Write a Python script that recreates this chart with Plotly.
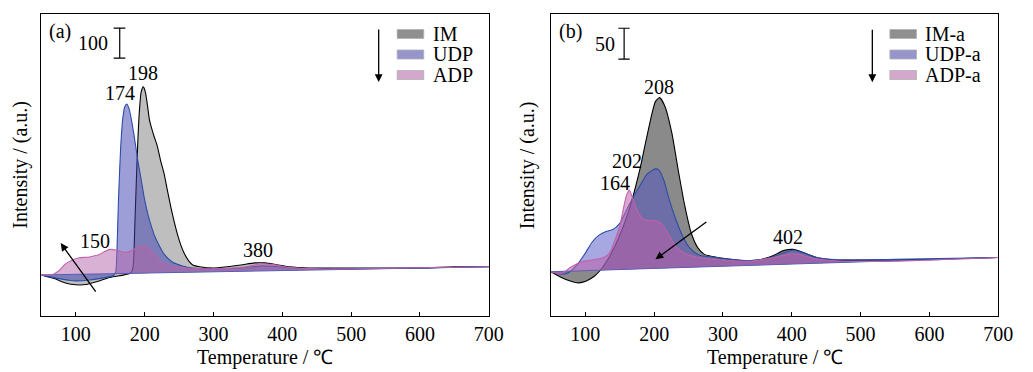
import plotly.graph_objects as go

W, H = 1033, 372
FONT = "Liberation Serif, Times New Roman, serif"
FS = 20

# ---------------- Panel (a) data ----------------
im_x = [50, 70, 85, 100, 115, 130, 150, 170, 180, 183, 186, 189, 192, 195, 198, 201, 204, 207, 210, 214, 218,
        223, 228, 233, 238, 243, 248, 253, 258, 264, 270, 280, 300, 320, 340, 360, 375, 390, 410, 440, 500, 600, 650, 700]
im_y = [0, -13, -27, -33, -32, -23, -8, 0, 7, 23, 183, 383, 533, 610, 627, 610, 567, 517, 490, 460, 433,
        383, 340, 283, 227, 177, 133, 97, 70, 47, 33, 27, 23, 27, 33, 40, 40, 35, 27, 23, 23, 23, 27, 28]

udp_x = [50, 70, 90, 100, 120, 140, 155, 158, 160, 162, 165, 168, 171, 174, 177, 180, 185, 190, 195, 200, 205,
         210, 215, 220, 228, 240, 255, 270, 300, 340, 370, 390, 420, 500, 600, 700]
udp_y = [0, -10, -18, -20, -17, -10, -2, 10, 100, 250, 417, 517, 560, 570, 557, 527, 460, 383, 317, 250, 200,
         160, 127, 103, 70, 43, 30, 23, 20, 23, 30, 28, 22, 20, 23, 27]

adp_x = [50, 65, 75, 85, 95, 105, 120, 133, 142, 150, 158, 165, 172, 180, 190, 197, 205, 212, 220, 230, 245,
         270, 300, 340, 370, 385, 410, 450, 550, 700]
adp_y = [0, 0, 13, 37, 50, 57, 60, 67, 78, 85, 83, 78, 75, 80, 92, 97, 90, 73, 50, 35, 27,
         22, 20, 25, 37, 35, 25, 20, 22, 27]

base_a_x = [50, 700]
base_a_y = [0, 27]

# ---------------- Panel (b) data ----------------
ima_x = [50, 63, 78, 90, 101.5, 113.5, 123, 135, 149, 163.6, 178, 187.5, 197, 202, 208, 216, 225.7, 235, 244.8,
         254, 263.8, 273, 292, 311.6, 330.7, 349.7, 369, 388, 402, 416.6, 435.7, 464, 512, 607.5, 700]
ima_y = [0, -8, -15, -18, -15, -7, 4, 24, 56, 100, 159, 208, 256, 275, 281, 266, 224, 164, 105,
         62, 38, 28, 23, 20, 18, 19, 24, 34, 36, 31, 23, 19, 19, 20, 23]

udpa_x = [50, 63, 75, 90, 100, 110, 120, 130, 140, 150, 160, 170, 180, 190, 202, 207, 214, 222, 232, 242, 252,
          265, 290, 310, 340, 370, 390, 402, 415, 440, 470, 550, 700]
udpa_y = [0, -4, -2, 14, 30, 48, 59, 65, 68, 78, 100, 121, 140, 158, 166, 164, 148, 116, 83, 56, 38,
          27, 23, 20, 18, 23, 31, 35, 31, 22, 19, 20, 23]

adpa_x = [50, 65, 80, 95, 110, 125, 135, 143, 150, 155, 160, 164, 168, 175, 183, 192, 200, 210, 220, 232, 245,
          265, 300, 340, 370, 395, 410, 430, 470, 550, 700]
adpa_y = [0, -3, 8, 16, 19, 22, 30, 51, 73, 100, 124, 132, 121, 100, 86, 82, 83, 78, 62, 40, 29,
          23, 19, 17, 22, 28, 28, 22, 17, 17, 23]

base_b_x = [50, 700]
base_b_y = [0, 23]

x_ticks = [100, 200, 300, 400, 500, 600, 700]
names_a = ["IM", "UDP", "ADP"]
names_b = ["IM-a", "UDP-a", "ADP-a"]
peaks_a = [(198, 673, "198"), (164, 607, "174"), (128, 114, "150"), (364, 83, "380")]
peaks_b = [(206.5, 298, "208"), (161, 179, "202"), (143.5, 144, "164"), (395, 56, "402")]

line_cols = ["#000000", "#2a4ea6", "#c062a8"]
fill_a = ["rgba(125,125,125,0.5)", "rgba(60,60,175,0.5)", "rgba(180,100,170,0.5)"]
fill_b = ["rgba(105,105,105,0.78)", "rgba(80,80,195,0.5)", "rgba(185,95,170,0.55)"]
legend_cols = ["#8f8f8f", "#9595cc", "#d4a8cc"]


def px_x(p):
    return p / W


def px_y(p):
    return 1 - p / H


fig = go.Figure()

series_a = [(im_x, im_y), (udp_x, udp_y), (adp_x, adp_y)]
series_b = [(ima_x, ima_y), (udpa_x, udpa_y), (adpa_x, adpa_y)]

for panel, (series, base_x, base_y, fills, names) in enumerate(
        [(series_a, base_a_x, base_a_y, fill_a, names_a), (series_b, base_b_x, base_b_y, fill_b, names_b)]):
    xa = "x" if panel == 0 else "x2"
    ya = "y" if panel == 0 else "y2"
    for i, (sx, sy) in enumerate(series):
        fig.add_trace(go.Scatter(x=base_x, y=base_y, mode="lines",
                                 line=dict(color="#3a5cb8" if i == 1 else "rgba(0,0,0,0)", width=1),
                                 xaxis=xa, yaxis=ya, showlegend=False, hoverinfo="skip"))
        fig.add_trace(go.Scatter(x=sx, y=sy, mode="lines", name=names[i], fill="tonexty",
                                 fillcolor=fills[i], line=dict(color=line_cols[i], width=1.1, shape="spline",
                                                               smoothing=0.6),
                                 xaxis=xa, yaxis=ya, showlegend=False))

dom_a = [px_x(42), px_x(496)]
dom_b = [px_x(559), px_x(1013)]
dom_y = [px_y(316), px_y(14)]

axis_common = dict(range=[50, 700], tickvals=x_ticks, ticks="inside", ticklen=4, tickcolor="black",
                   showline=True, linecolor="black", linewidth=1, mirror=True, showgrid=False, zeroline=False,
                   tickfont=dict(family=FONT, size=FS, color="black"))
yaxis_common = dict(showticklabels=False, ticks="", showline=True, linecolor="black", linewidth=1, mirror=True,
                    showgrid=False, zeroline=False, domain=dom_y)

fig.update_layout(
    width=W, height=H, autosize=False, margin=dict(l=0, r=0, t=0, b=0),
    paper_bgcolor="white", plot_bgcolor="white", showlegend=False,
    font=dict(family=FONT, size=FS, color="black"),
    xaxis=dict(domain=dom_a, anchor="y", **axis_common),
    yaxis=dict(anchor="x", range=[-137, 870], **yaxis_common),
    xaxis2=dict(domain=dom_b, anchor="y2", **axis_common),
    yaxis2=dict(anchor="x2", range=[-71.5, 416], **yaxis_common),
)

anns = []
shapes = []


def txt(x, y, t, xref="paper", yref="paper", xanchor="center", angle=0):
    return dict(x=x, y=y, xref=xref, yref=yref, text=t, showarrow=False, xanchor=xanchor, yanchor="middle",
                textangle=angle, font=dict(family=FONT, size=FS, color="black"))


# peak labels
for (px_, py_, t) in peaks_a:
    anns.append(txt(px_, py_, t, "x", "y"))
for (px_, py_, t) in peaks_b:
    anns.append(txt(px_, py_, t, "x2", "y2"))

# panel labels
anns.append(txt(px_x(48), px_y(31), "(a)", xanchor="left"))
anns.append(txt(px_x(565), px_y(31), "(b)", xanchor="left"))

# scale bars
for (xr, yr, xc, x0c, x1c, y0, y1, lab, labx) in [
        ("x", "y", 163.8, 155, 172, 723, 823, "100", 150),
        ("x2", "y2", 156.4, 148, 164.5, 343, 393, "50", 146)]:
    shapes.append(dict(type="line", xref=xr, yref=yr, x0=xc, x1=xc, y0=y0, y1=y1,
                       line=dict(color="black", width=1.2)))
    for yy in (y0, y1):
        shapes.append(dict(type="line", xref=xr, yref=yr, x0=x0c, x1=x1c, y0=yy, y1=yy,
                           line=dict(color="black", width=1.2)))
    anns.append(txt(labx, (y0 + y1) / 2, lab, xr, yr, xanchor="right"))

# arrows
arrow_style = dict(text="", showarrow=True, arrowhead=2, arrowsize=1.2, arrowwidth=1.3, arrowcolor="black")
anns.append(dict(x=78, y=106, ax=130.5, ay=-61, xref="x", yref="y", axref="x", ayref="y", **arrow_style))
anns.append(dict(x=540, y=643, ax=540, ay=823, xref="x", yref="y", axref="x", ayref="y", **arrow_style))
anns.append(dict(x=202, y=20, ax=278, ay=82, xref="x2", yref="y2", axref="x2", ayref="y2", **arrow_style))
anns.append(dict(x=517, y=306, ax=517, ay=393, xref="x2", yref="y2", axref="x2", ayref="y2", **arrow_style))

# custom legends
for (sx0, names) in [(403, names_a), (903, names_b)]:
    for i, nm in enumerate(names):
        cy = [34, 54.5, 75][i]
        shapes.append(dict(type="rect", xref="paper", yref="paper", x0=px_x(sx0), x1=px_x(sx0 + 27),
                           y0=px_y(cy + 4.5), y1=px_y(cy - 4.5), fillcolor=legend_cols[i],
                           line=dict(color="#b0b0b0", width=0.8)))
        anns.append(txt(px_x(sx0 + 34), px_y(cy), nm, xanchor="left"))

# axis titles
for cx in [(42 + 496) / 2, (559 + 1013) / 2]:
    anns.append(txt(px_x(cx), px_y(357), "Temperature / ℃"))
for cx in [20, 535]:
    anns.append(txt(px_x(cx), px_y(165), "Intensity / (a.u.)", angle=-90))

fig.update_layout(annotations=anns, shapes=shapes)
post = ("document.documentElement.style.overflow='hidden';document.body.style.margin='0';"
        "document.body.style.overflow='hidden';")
fig.write_html("out.html", config={"responsive": False, "displayModeBar": False}, post_script=post)
